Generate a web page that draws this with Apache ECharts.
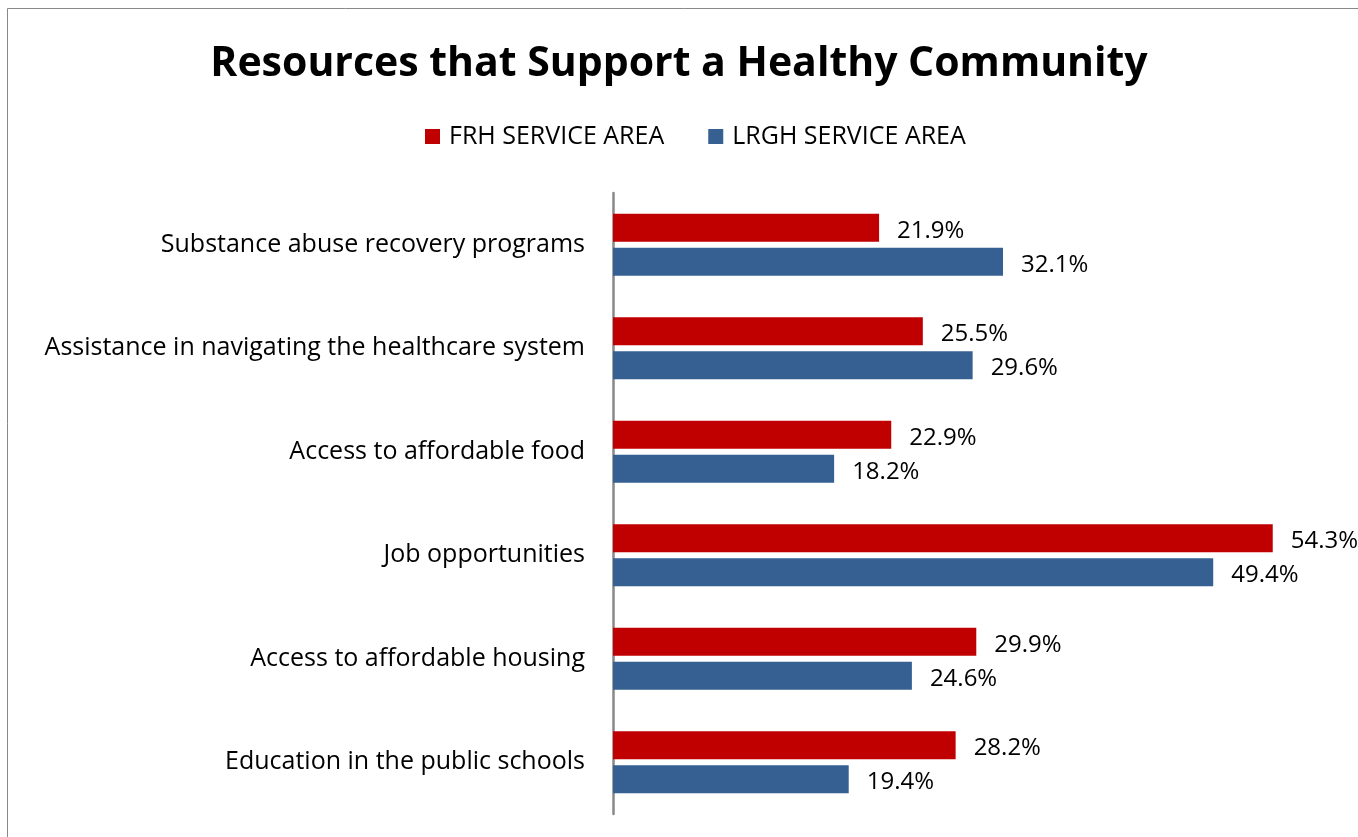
<!DOCTYPE html>
<html>
<head>
<meta charset="utf-8">
<script src="https://cdn.jsdelivr.net/npm/echarts@6/dist/echarts.min.js"></script>
<style>
  html, body { margin: 0; padding: 0; background: #fff; }
  #chart { width: 1358px; height: 837px; }
</style>
</head>
<body>
<div id="chart"></div>
<script>
const categories = [
  'Substance abuse recovery programs',
  'Assistance in navigating the healthcare system',
  'Access to affordable food',
  'Job opportunities',
  'Access to affordable housing',
  'Education in the public schools'
];
const frhValues = [21.9, 25.5, 22.9, 54.3, 29.9, 28.2];
const lrghValues = [32.1, 29.6, 18.2, 49.4, 24.6, 19.4];
const seriesNames = ['FRH SERVICE AREA', 'LRGH SERVICE AREA'];

const FONT = 'Open Sans';
const chart = echarts.init(document.getElementById('chart'));

function barSeries(name, values, color) {
  return {
    name: name,
    type: 'bar',
    data: values,
    barWidth: 28,
    barGap: '22%',
    itemStyle: { color: color },
    label: {
      show: true,
      position: 'right',
      distance: 18,
      offset: [0, 3],
      color: '#000',
      fontFamily: FONT,
      fontSize: 24,
      formatter: p => p.value.toFixed(1) + '%'
    }
  };
}

chart.setOption({
  animation: false,
  title: {
    text: 'Resources that Support a Healthy Community',
    left: 'center',
    top: 39,
    textStyle: { fontFamily: FONT, fontWeight: 'bold', fontSize: 41, color: '#000' }
  },
  legend: {
    top: 124,
    left: 425,
    padding: 0,
    itemWidth: 15,
    itemHeight: 15,
    itemGap: 44,
    icon: 'rect',
    textStyle: { fontFamily: FONT, fontSize: 25, color: '#000', padding: [0, 0, 0, 4] },
    data: seriesNames
  },
  graphic: [{
    type: 'rect',
    shape: { x: 7.5, y: 8.5, width: 1400, height: 900 },
    style: { fill: 'none', stroke: '#888', lineWidth: 1 },
    silent: true
  }],
  grid: { left: 613, right: 16, top: 193, bottom: 23, containLabel: false },
  xAxis: {
    type: 'value',
    min: 0,
    max: 60,
    show: false
  },
  yAxis: {
    type: 'category',
    data: categories,
    inverse: true,
    axisLine: { show: true, lineStyle: { color: '#888888', width: 2.5 } },
    axisTick: { show: false },
    axisLabel: { fontFamily: FONT, fontSize: 25, color: '#000', margin: 28 }
  },
  series: [
    barSeries(seriesNames[0], frhValues, '#C00000'),
    barSeries(seriesNames[1], lrghValues, '#376092')
  ]
});
</script>
</body>
</html>
